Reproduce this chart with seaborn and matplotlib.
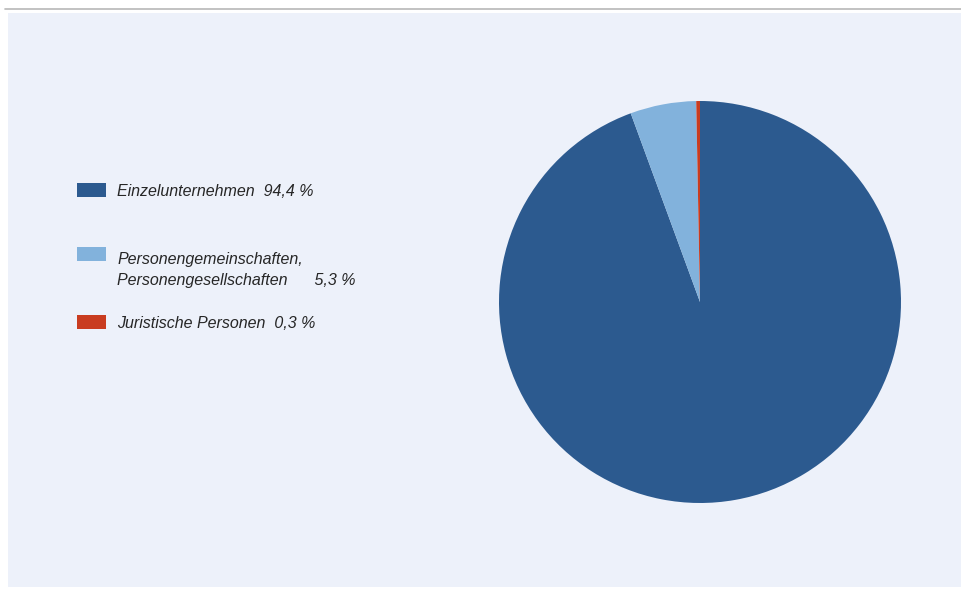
import matplotlib
matplotlib.use('Agg')
import matplotlib.pyplot as plt
from matplotlib.patches import Rectangle
from matplotlib.lines import Line2D
import seaborn as sns


# ==========================
# DADOS
# ==========================

kategorien = [
    'Einzelunternehmen',
    'Personengemeinschaften,\nPersonengesellschaften',
    'Juristische Personen',
]
anteile = [94.4, 5.3, 0.3]
farben = ['#2c5a8f', '#82b2dc', '#c93c20']
abstand = ['  ', '      ', '  ']

hintergrund = '#edf1fa'


# ==========================
# CONFIGURAÇÕES
# ==========================

sns.set_theme(style='white')
plt.rcParams['font.family'] = ['Liberation Sans', 'DejaVu Sans']

W, H = 961, 589
fig = plt.figure(figsize=(W / 100, H / 100), dpi=100)
fig.patch.set_facecolor('white')

# painel de fundo e linha superior
fig.patches.append(Rectangle((8 / W, (H - 587) / H), (W - 8) / W, 574 / H,
                             transform=fig.transFigure, facecolor=hintergrund,
                             edgecolor='none', zorder=-5))
fig.lines.append(Line2D([5 / W, 1], [(H - 9) / H] * 2, transform=fig.transFigure,
                        color='#b8b8b8', lw=1.2, zorder=-5))


# ==========================
# PIZZA
# ==========================

cx, cy, r = 700, 302, 201
ax = fig.add_axes([(cx - r) / W, (H - cy - r) / H, 2 * r / W, 2 * r / H])
ax.set_zorder(2)
ax.set_facecolor('none')
ax.pie(anteile, colors=farben, startangle=90, counterclock=False,
       radius=1, wedgeprops=dict(linewidth=0))
ax.set_xlim(-1, 1)
ax.set_ylim(-1, 1)
ax.set_aspect('equal')
ax.axis('off')


# ==========================
# LEGENDA
# ==========================

patch_y = [190, 254, 322]
text_y = [192, 270, 324]

for name, wert, farbe, sp, py, ty in zip(kategorien, anteile, farben,
                                         abstand, patch_y, text_y):
    fig.patches.append(Rectangle((77 / W, (H - py - 7) / H), 29 / W, 14 / H,
                                 transform=fig.transFigure, facecolor=farbe,
                                 edgecolor='none', zorder=1))
    label = f'{name}{sp}{wert:.1f} %'.replace('.', ',')
    fig.text(117 / W, (H - ty) / H, label, fontsize=11.5, style='italic',
             color='#262626', va='center', ha='left', linespacing=1.55)

fig.savefig('out.png', dpi=100, facecolor='white')
